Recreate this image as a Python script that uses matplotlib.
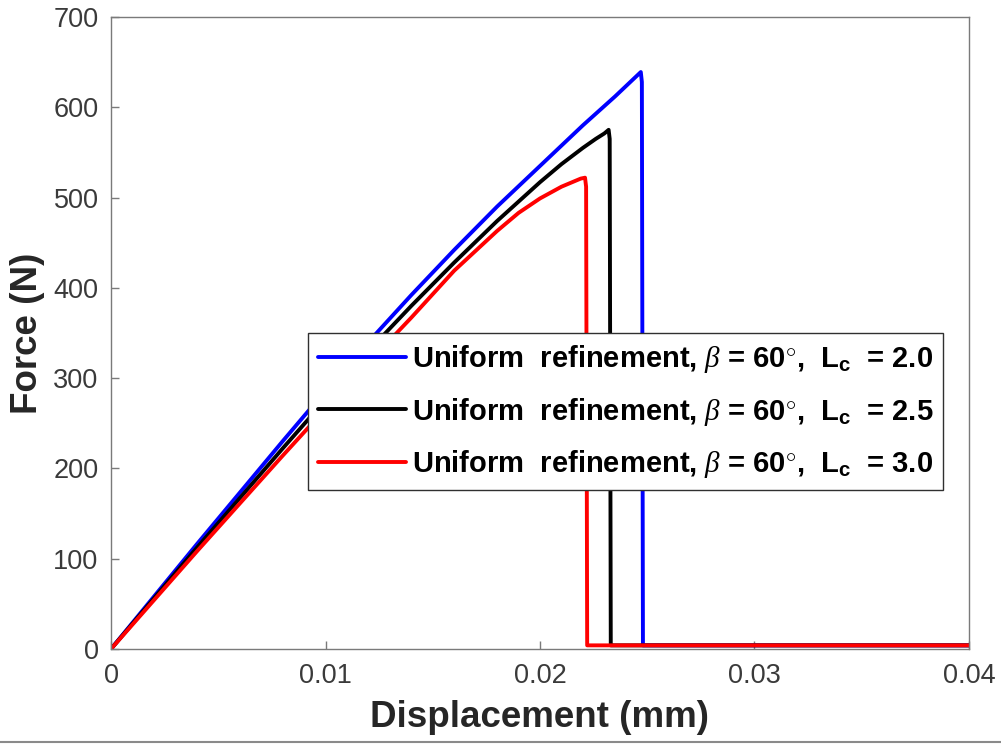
import matplotlib
matplotlib.use("Agg")
import matplotlib.pyplot as plt
from matplotlib.lines import Line2D

plt.rcParams["font.family"] = ["Liberation Sans", "DejaVu Sans"]
plt.rcParams["mathtext.fontset"] = "custom"
plt.rcParams["mathtext.rm"] = "Liberation Sans"
plt.rcParams["mathtext.it"] = "Liberation Serif:italic"
plt.rcParams["mathtext.bf"] = "Liberation Sans:bold"

# Force-displacement curves (displacement in mm, force in N)
disp_lc20 = [0.0, 0.002, 0.004, 0.006, 0.008, 0.010, 0.012, 0.014, 0.016, 0.018,
             0.020, 0.022, 0.0235, 0.0247, 0.02475, 0.02480, 0.04]
force_lc20 = [0, 58, 116, 173, 230, 286, 340, 392, 442, 490,
              535, 580, 612, 639, 628, 4, 4]

disp_lc25 = [0.0, 0.002, 0.004, 0.006, 0.008, 0.010, 0.012, 0.014, 0.016, 0.018,
             0.020, 0.021, 0.022, 0.0226, 0.0230, 0.0232, 0.02325, 0.02330, 0.04]
force_lc25 = [0, 56, 112, 167, 222, 276, 330, 380, 428, 474,
              517, 537, 555, 565, 571, 575, 565, 4, 4]

disp_lc30 = [0.0, 0.002, 0.004, 0.006, 0.008, 0.010, 0.012, 0.014, 0.016, 0.018,
             0.019, 0.020, 0.021, 0.0215, 0.0219, 0.0221, 0.02215, 0.02220, 0.04]
force_lc30 = [0, 54, 108, 161, 214, 266, 317, 367, 419, 463,
              483, 499, 512, 517, 521, 522, 512, 4, 4]

series_labels = [
    r"Uniform  refinement, $\it{\beta}$ = 60$^{\circ}$,  L$_{\mathbf{c}}$  = 2.0",
    r"Uniform  refinement, $\it{\beta}$ = 60$^{\circ}$,  L$_{\mathbf{c}}$  = 2.5",
    r"Uniform  refinement, $\it{\beta}$ = 60$^{\circ}$,  L$_{\mathbf{c}}$  = 3.0",
]
series_colors = ["#0000ff", "#000000", "#ff0000"]

x_ticks = [0, 0.01, 0.02, 0.03, 0.04]
x_tick_labels = ["0", "0.01", "0.02", "0.03", "0.04"]
y_ticks = [0, 100, 200, 300, 400, 500, 600, 700]

fig = plt.figure(figsize=(10.01, 7.45), dpi=100)
ax = fig.add_axes([0.1109, 0.1289, 0.8571, 0.8483])

for xs, ys, lab, col in zip([disp_lc20, disp_lc25, disp_lc30],
                            [force_lc20, force_lc25, force_lc30],
                            series_labels, series_colors):
    ax.plot(xs, ys, color=col, lw=2.8, label=lab,
            solid_joinstyle="round", solid_capstyle="round")

ax.set_xlim(0, 0.04)
ax.set_ylim(0, 700)
ax.set_xticks(x_ticks)
ax.set_xticklabels(x_tick_labels)
ax.set_yticks(y_ticks)

spine_col = "#7a7a7a"
for s in ax.spines.values():
    s.set_color(spine_col)
    s.set_linewidth(1.0)
ax.tick_params(direction="in", length=6, width=1.0, color=spine_col,
               labelsize=19.5, labelcolor="#3a3a3a", top=False, right=False)
ax.tick_params(axis="x", pad=10)
ax.tick_params(axis="y", pad=9)

ax.set_xlabel("Displacement (mm)", fontsize=26.5, fontweight="bold", color="#262626", labelpad=8)
ax.set_ylabel("Force (N)", fontsize=26.5, fontweight="bold", color="#262626", labelpad=6)

leg = ax.legend(loc="upper left", bbox_to_anchor=(0.2296, 0.5), borderaxespad=0,
                fancybox=False, edgecolor="#303030", framealpha=1,
                prop={"weight": "bold", "size": 21}, handlelength=3.0,
                handletextpad=0.2, labelspacing=0.7, borderpad=0.35)
leg.get_frame().set_linewidth(1.0)

# thin rule along the bottom edge of the figure
fig.add_artist(Line2D([0, 1], [1 - 742 / 745, 1 - 742 / 745], color="#8a8a8a", lw=1.5,
                      transform=fig.transFigure))

fig.savefig("out.png", dpi=100, facecolor="white")
